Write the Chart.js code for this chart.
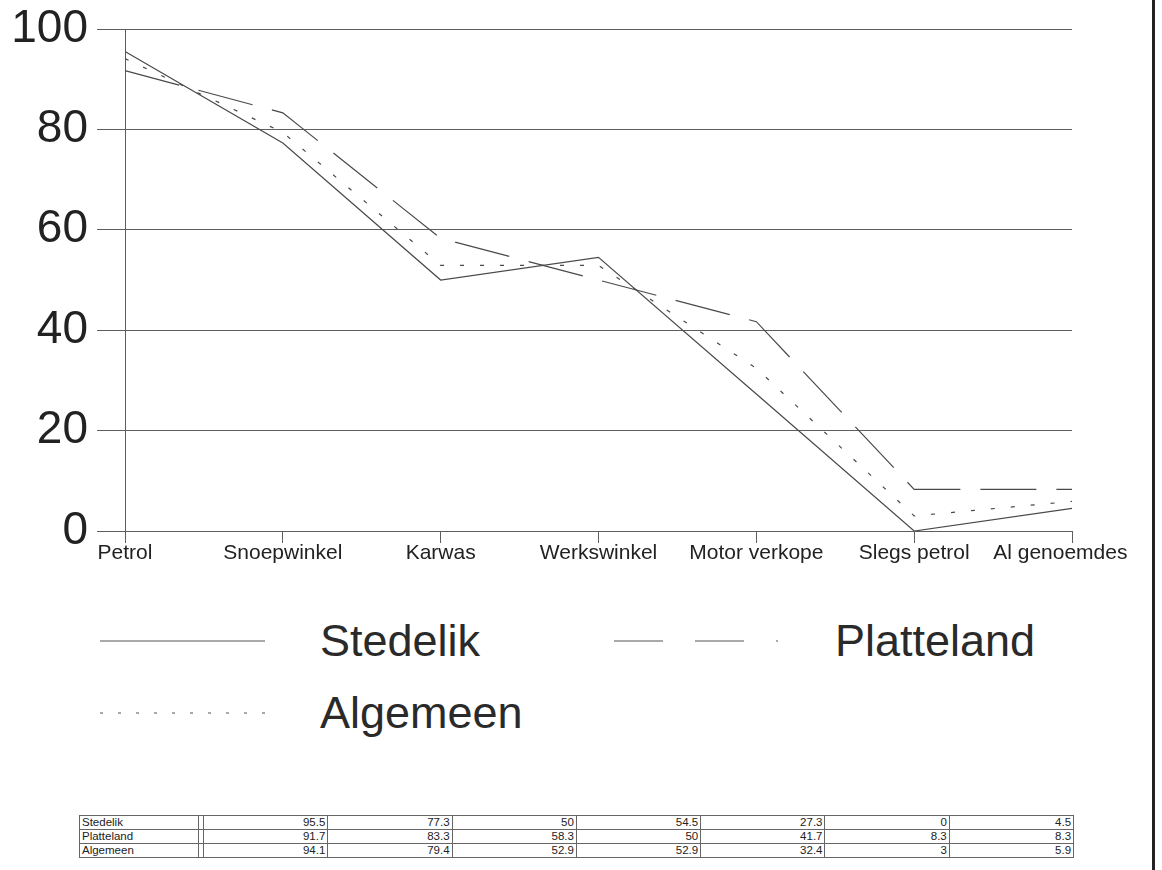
<!DOCTYPE html>
<html>
<head>
<meta charset="utf-8">
<script src="https://cdn.jsdelivr.net/npm/chart.js@4/dist/chart.umd.min.js"></script>
<style>
  html, body { margin: 0; padding: 0; background: #fff; }
  body { width: 1162px; height: 870px; position: relative; overflow: hidden;
         font-family: "Liberation Sans", Arial, sans-serif; color: #222; }
  #wrap { position: absolute; left: 0; top: 0; width: 1162px; height: 590px; }
  .lg-text { position: absolute; font-size: 45px; line-height: 50px; color: #2a2a2a; }
  .lg-line { position: absolute; }
  #frame { position: absolute; left: 1152px; top: 0; width: 3px; height: 870px; background: #222; }
  #tbl { position: absolute; left: 79px; top: 815px; border-collapse: collapse; table-layout: fixed;
         font-size: 11.5px; color: #222; }
  #tbl td { border: 1px solid #666; height: 13px; line-height: 13px; padding: 0 2px; white-space: nowrap; }
  #tbl td.num { text-align: right; }
  #tbl td.gap { padding: 0; }
</style>
</head>
<body>
<div id="wrap"><canvas id="chart"></canvas></div>

<!-- legende -->
<svg class="lg-line" style="left:100px;top:636px" width="170" height="10"><line x1="0" y1="5" x2="165" y2="5" stroke="#555" stroke-width="1.2"/></svg>
<div class="lg-text" style="left:320px;top:616px">Stedelik</div>
<svg class="lg-line" style="left:614px;top:636px" width="170" height="10"><line x1="0" y1="5" x2="164" y2="5" stroke="#555" stroke-width="1.2" stroke-dasharray="49 32 49 32 2 100"/></svg>
<div class="lg-text" style="left:835px;top:616px">Platteland</div>
<svg class="lg-line" style="left:100px;top:708px" width="170" height="10"><line x1="0" y1="5" x2="165" y2="5" stroke="#555" stroke-width="1.2" stroke-dasharray="3 15"/></svg>
<div class="lg-text" style="left:320px;top:688px">Algemeen</div>

<table id="tbl"></table>
<div id="frame"></div>

<script>
'use strict';
// ── Data ─────────────────────────────────────────────────────────────────────
const categories = ['Petrol', 'Snoepwinkel', 'Karwas', 'Werkswinkel', 'Motor verkope', 'Slegs petrol', 'Al genoemdes'];
const stedelik   = [95.5, 77.3, 50, 54.5, 27.3, 0, 4.5];
const platteland = [91.7, 83.3, 58.3, 50, 41.7, 8.3, 8.3];
const algemeen   = [94.1, 79.4, 52.9, 52.9, 32.4, 3, 5.9];
const seriesNames = ['Stedelik', 'Platteland', 'Algemeen'];
const yMin = 0, yMax = 100, yStep = 20;

// ── Tabel onderaan ───────────────────────────────────────────────────────────
(function buildTable() {
  const tbl = document.getElementById('tbl');
  const rows = [stedelik, platteland, algemeen];
  let html = '<colgroup><col style="width:119px"><col style="width:5px">' +
    categories.map(() => '<col style="width:124.3px">').join('') + '</colgroup>';
  rows.forEach((vals, i) => {
    html += `<tr><td>${seriesNames[i]}</td><td class="gap"></td>` +
      vals.map(v => `<td class="num">${v}</td>`).join('') + '</tr>';
  });
  tbl.innerHTML = html;
})();

// ── Grafiek ──────────────────────────────────────────────────────────────────
const LINE = '#4a4a4a';
const GRID = '#5e5e5e';
const FONT = '"Liberation Sans", Arial, sans-serif';

new Chart(document.getElementById('chart'), {
  type: 'line',
  data: {
    labels: categories,
    datasets: [
      { label: seriesNames[0], data: stedelik,   borderColor: LINE, borderWidth: 1.2 },
      { label: seriesNames[1], data: platteland, borderColor: LINE, borderWidth: 1.2, borderDash: [56, 20] },
      { label: seriesNames[2], data: algemeen,   borderColor: LINE, borderWidth: 1.2, borderDash: [4, 16] },
    ],
  },
  options: {
    responsive: true, maintainAspectRatio: false, animation: false,
    layout: { padding: { left: 0, right: 90, top: 29, bottom: 9 } },
    elements: { point: { radius: 0 }, line: { tension: 0, fill: false } },
    plugins: { legend: { display: false }, tooltip: { enabled: false } },
    scales: {
      x: {
        offset: false,
        grid: { drawOnChartArea: false, drawTicks: true, tickLength: 12, color: GRID },
        border: { color: GRID },
        ticks: {
          autoSkip: false, maxRotation: 0, padding: 0, color: '#222',
          font: { family: FONT, size: 21, lineHeight: 1 },
          // laaste label iets naar links, zoals in het origineel
          callback: (v, i) => i === categories.length - 1 ? categories[i] + '    ' : categories[i],
        },
        afterFit: s => { s.height = 50; },
      },
      y: {
        min: yMin, max: yMax,
        grid: { color: GRID, lineWidth: 1, tickLength: 28 },
        border: { color: GRID },
        ticks: { stepSize: yStep, padding: 9, color: '#222', font: { family: FONT, size: 46 } },
        afterFit: s => { s.width = 125; s.paddingTop = 10; },
      },
    },
  },
});
</script>
</body>
</html>
